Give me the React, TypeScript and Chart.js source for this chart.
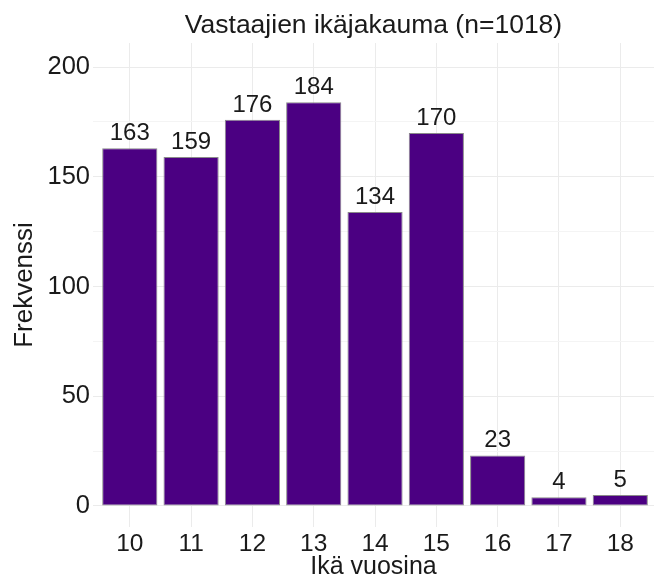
import React, { useEffect, useRef } from "react";
import { Chart, registerables } from "chart.js";

Chart.register(...registerables);

const TITLE = "Vastaajien ikäjakauma (n=1018)";
const X_TITLE = "Ikä vuosina";
const Y_TITLE = "Frekvenssi";
const AGES = [10, 11, 12, 13, 14, 15, 16, 17, 18];
const COUNTS = [163, 159, 176, 184, 134, 170, 23, 4, 5];
const Y_TICKS = [0, 25, 50, 75, 100, 125, 150, 175, 200];

const FONT = "'Liberation Sans', Arial, sans-serif";
const BAR_COLOR = "#4B0082";
const TEXT_COLOR = "#1a1a1a";

const titlePlugin = {
  id: "customTitle",
  afterDraw(chart: any) {
    const { ctx, chartArea } = chart;
    ctx.save();
    ctx.font = `26.5px ${FONT}`;
    ctx.fillStyle = TEXT_COLOR;
    ctx.textAlign = "center";
    ctx.textBaseline = "alphabetic";
    ctx.fillText(TITLE, (chartArea.left + chartArea.right) / 2, 33);
    ctx.restore();
  },
};

const labelPlugin = {
  id: "barLabels",
  afterDatasetsDraw(chart: any) {
    const { ctx } = chart;
    const meta = chart.getDatasetMeta(0);
    ctx.save();
    ctx.font = `24px ${FONT}`;
    ctx.fillStyle = TEXT_COLOR;
    ctx.textAlign = "center";
    ctx.textBaseline = "alphabetic";
    meta.data.forEach((bar: any, i: number) => {
      ctx.fillText(String(COUNTS[i]), bar.x, bar.y - 8);
    });
    ctx.restore();
  },
};

export default function App() {
  const ref = useRef<HTMLCanvasElement>(null);
  useEffect(() => {
    if (!ref.current) return;
    const chart = new Chart(ref.current, {
      type: "bar",
      data: {
        datasets: [
          {
            data: AGES.map((a, i) => ({ x: a, y: COUNTS[i] })),
            backgroundColor: BAR_COLOR,
            borderColor: "#8a8a8a",
            borderWidth: 1,
            borderSkipped: false,
            categoryPercentage: 1,
            barPercentage: 0.9,
          },
        ],
      },
      options: {
        animation: false,
        responsive: false,
        maintainAspectRatio: false,
        layout: { padding: { top: 43, left: 0, right: 0, bottom: 0 } },
        plugins: { legend: { display: false }, tooltip: { enabled: false }, title: { display: false } },
        scales: {
          x: {
            type: "linear",
            offset: false,
            min: 9.4,
            max: 18.55,
            afterBuildTicks: (scale: any) => {
              scale.ticks = AGES.map((v) => ({ value: v }));
            },
            afterFit: (scale: any) => {
              scale.height = 53;
            },
            ticks: {
              autoSkip: false,
              padding: 3,
              color: TEXT_COLOR,
              font: { family: FONT, size: 24.5 },
              callback: (v: any) => String(v),
            },
            grid: { color: "#ebebeb", lineWidth: 1, drawTicks: false, offset: false },
            border: { display: false },
            title: {
              display: true,
              text: X_TITLE,
              color: TEXT_COLOR,
              font: { family: FONT, size: 25, lineHeight: 1 },
              padding: { top: 0, bottom: 0 },
            },
          },
          y: {
            min: -9.6,
            max: 211,
            afterBuildTicks: (scale: any) => {
              scale.ticks = Y_TICKS.map((v) => ({ value: v }));
            },
            afterFit: (scale: any) => {
              scale.width = 93;
            },
            ticks: {
              autoSkip: false,
              padding: 3,
              color: TEXT_COLOR,
              font: { family: FONT, size: 25.5 },
              callback: (v: any) => (v % 50 === 0 ? String(v) : ""),
            },
            grid: {
              color: (c: any) => (c.tick && c.tick.value % 50 === 0 ? "#ebebeb" : "#f4f4f4"),
              lineWidth: 1,
              drawTicks: false,
            },
            border: { display: false },
            title: {
              display: true,
              text: Y_TITLE,
              color: TEXT_COLOR,
              font: { family: FONT, size: 26, lineHeight: 1 },
              padding: { top: 12, bottom: 0 },
            },
          },
        },
      },
      plugins: [titlePlugin, labelPlugin],
    });
    return () => chart.destroy();
  }, []);
  return (
    <div style={{ position: "absolute", left: 0, top: 0, width: 654, height: 580, background: "#fff" }}>
      <canvas ref={ref} width={654} height={580} style={{ display: "block" }} />
    </div>
  );
}
